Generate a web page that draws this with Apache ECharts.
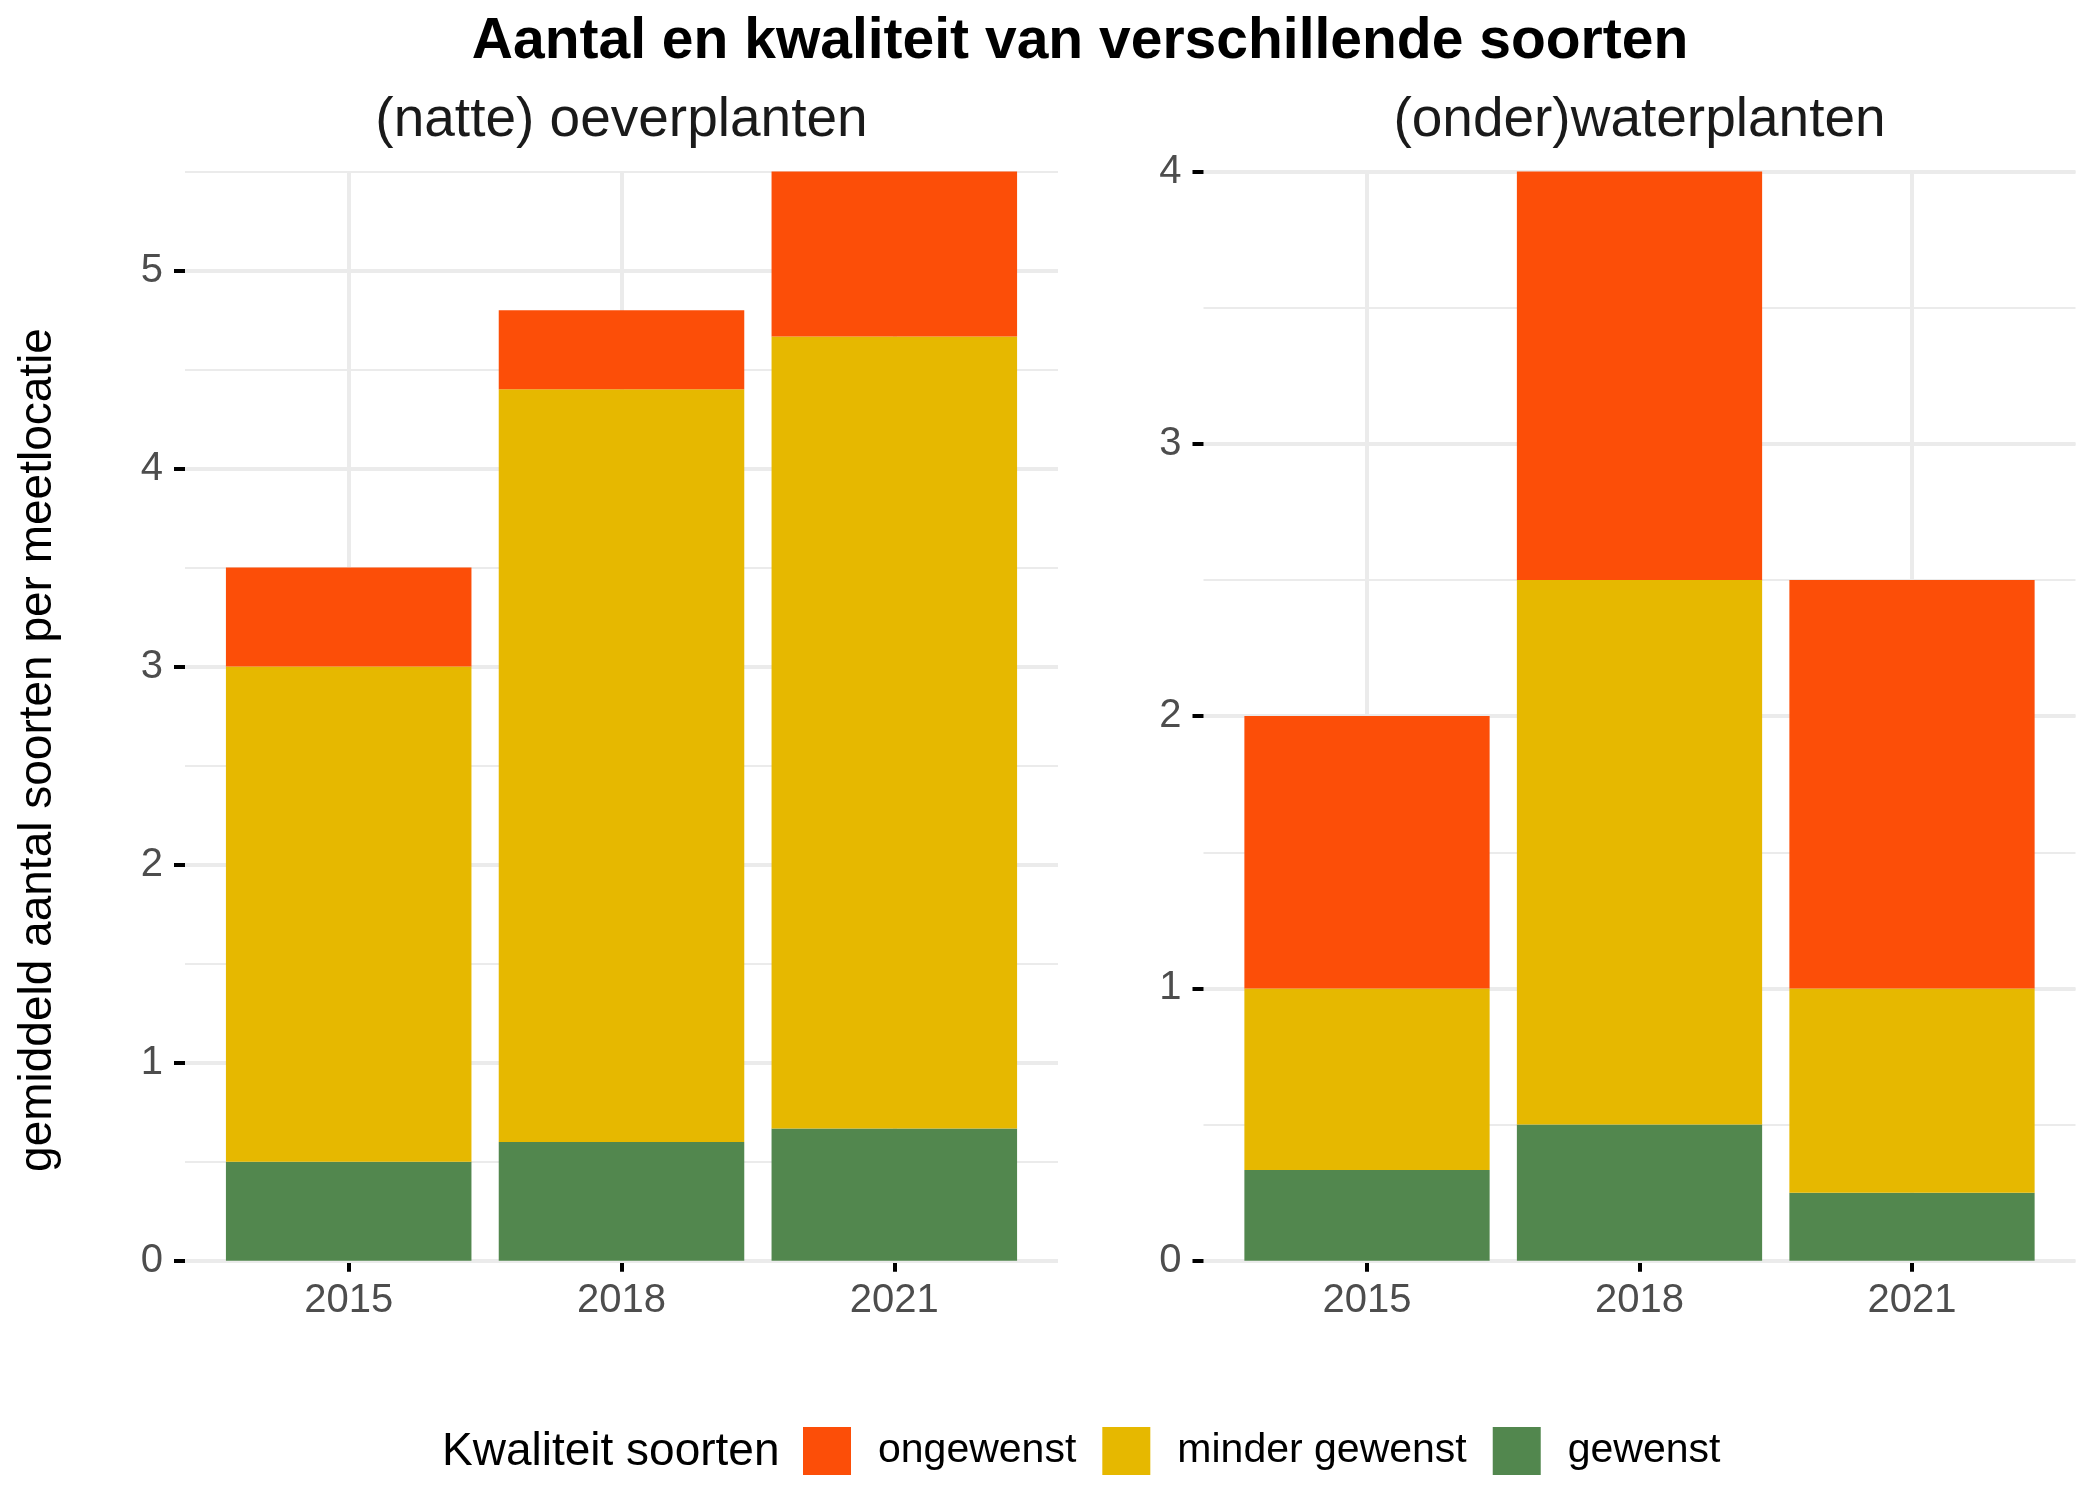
<!DOCTYPE html>
<html>
<head>
<meta charset="utf-8">
<script src="https://cdn.jsdelivr.net/npm/echarts@6/dist/echarts.min.js"></script>
<style>
html,body{margin:0;padding:0;background:#fff;}
#chart{width:2100px;height:1500px;}
</style>
</head>
<body>
<div id="chart"></div>
<script>
// ---- data ----
const years = ['2015', '2018', '2021'];
const panels = ['(natte) oeverplanten', '(onder)waterplanten'];
const qualities = ['ongewenst', 'minder gewenst', 'gewenst'];

const oeverGewenst = [0.5, 0.6, 0.667];
const oeverMinder = [2.5, 3.8, 4.0];
const oeverOngewenst = [0.5, 0.4, 0.833];

const waterGewenst = [0.333, 0.5, 0.25];
const waterMinder = [0.667, 2.0, 0.75];
const waterOngewenst = [1.0, 1.5, 1.5];

const oeverYTicks = [0, 1, 2, 3, 4, 5];
const waterYTicks = [0, 1, 2, 3, 4];

const colors = {'ongewenst': '#FC4E08', 'minder gewenst': '#E6B800', 'gewenst': '#52874E'};

// ---- build ----
const xPos = years.map((y, i) => i + 1);
const FONT = '"Liberation Sans", Arial, sans-serif';
const GRID = '#EBEBEB';

function stackMax(a, b, c) {
  return Math.max(...a.map((v, i) => v + b[i] + c[i]));
}
const oeverMax = stackMax(oeverGewenst, oeverMinder, oeverOngewenst);
const waterMax = stackMax(waterGewenst, waterMinder, waterOngewenst);

const grids = [
  {left: 185, right: 1042, top: 171.5, bottom: 239.3, outerBoundsMode: 'none', containLabel: false},
  {left: 1203.5, right: 24.5, top: 171.5, bottom: 239.3, outerBoundsMode: 'none', containLabel: false}
];

function xAxis(gi) {
  return {
    type: 'value', gridIndex: gi, min: 0.4, max: 3.6,
    axisLine: {show: false},
    axisTick: {show: true, length: 11, customValues: xPos, lineStyle: {color: '#000', width: 4}},
    axisLabel: {customValues: xPos, formatter: v => years[Math.round(v) - 1] || '',
      color: '#4D4D4D', fontSize: 40, fontFamily: FONT, margin: 20},
    splitLine: {show: true, lineStyle: {color: GRID, width: 4}}
  };
}
function yMain(gi, max, ticks) {
  return {
    type: 'value', gridIndex: gi, min: 0, max: max,
    axisLine: {show: false},
    axisTick: {show: true, length: 11, customValues: ticks, lineStyle: {color: '#000', width: 4}},
    axisLabel: {customValues: ticks, color: '#4D4D4D', fontSize: 40, fontFamily: FONT, margin: 22},
    splitLine: {show: true, lineStyle: {color: GRID, width: 4}},
    z: 1
  };
}
function yMinor(gi, max) {
  return {
    type: 'value', gridIndex: gi, min: 0, max: max, interval: 0.5,
    axisLine: {show: false}, axisTick: {show: false}, axisLabel: {show: false},
    splitLine: {show: true, lineStyle: {color: GRID, width: 2}},
    z: 0
  };
}

function series(name, vals, gi, yi) {
  return {
    name: name, type: 'bar', stack: 'p' + gi,
    xAxisIndex: gi, yAxisIndex: yi,
    barWidth: '90%',
    itemStyle: {color: colors[name]},
    encode: {x: 1, y: 0},
    data: vals.map((v, i) => [v, xPos[i]]),
    silent: true
  };
}

const option = {
  animation: false,
  backgroundColor: '#fff',
  grid: grids,
  xAxis: [xAxis(0), xAxis(1)],
  yAxis: [
    yMain(0, oeverMax, oeverYTicks),
    yMinor(0, oeverMax),
    yMain(1, waterMax, waterYTicks),
    yMinor(1, waterMax)
  ],
  legend: {
    data: qualities,
    left: 803, top: 1427, padding: 0,
    itemWidth: 48, itemHeight: 48, itemGap: 26,
    icon: 'rect', selectedMode: false,
    textStyle: {color: '#000', fontSize: 41, fontFamily: FONT, padding: [0, 0, 0, 22]}
  },
  graphic: [
    {type: 'text', silent: true,
      style: {text: 'Aantal en kwaliteit van verschillende soorten', x: 1080, y: 42,
        align: 'center', verticalAlign: 'middle', fill: '#000', font: 'bold 57px ' + FONT}},
    {type: 'text', silent: true,
      style: {text: panels[0], x: (185 + 1058) / 2, y: 121, align: 'center', verticalAlign: 'middle',
        fill: '#1A1A1A', font: '55px ' + FONT}},
    {type: 'text', silent: true,
      style: {text: panels[1], x: (1203.5 + 2075.5) / 2, y: 121, align: 'center', verticalAlign: 'middle',
        fill: '#1A1A1A', font: '55px ' + FONT}},
    {type: 'text', silent: true,
      style: {text: 'Kwaliteit soorten', x: 442, y: 1452, align: 'left', verticalAlign: 'middle',
        fill: '#000', font: '46px ' + FONT}},
    {type: 'text', silent: true, x: 38, y: 750, rotation: Math.PI / 2,
      style: {text: 'gemiddeld aantal soorten per meetlocatie', x: 0, y: 0,
        align: 'center', verticalAlign: 'middle', fill: '#000', font: '46px ' + FONT}}
  ],
  series: [
    series('gewenst', oeverGewenst, 0, 0),
    series('minder gewenst', oeverMinder, 0, 0),
    series('ongewenst', oeverOngewenst, 0, 0),
    series('gewenst', waterGewenst, 1, 2),
    series('minder gewenst', waterMinder, 1, 2),
    series('ongewenst', waterOngewenst, 1, 2)
  ]
};

const chart = echarts.init(document.getElementById('chart'), null, {renderer: 'canvas'});
chart.setOption(option);
</script>
</body>
</html>
